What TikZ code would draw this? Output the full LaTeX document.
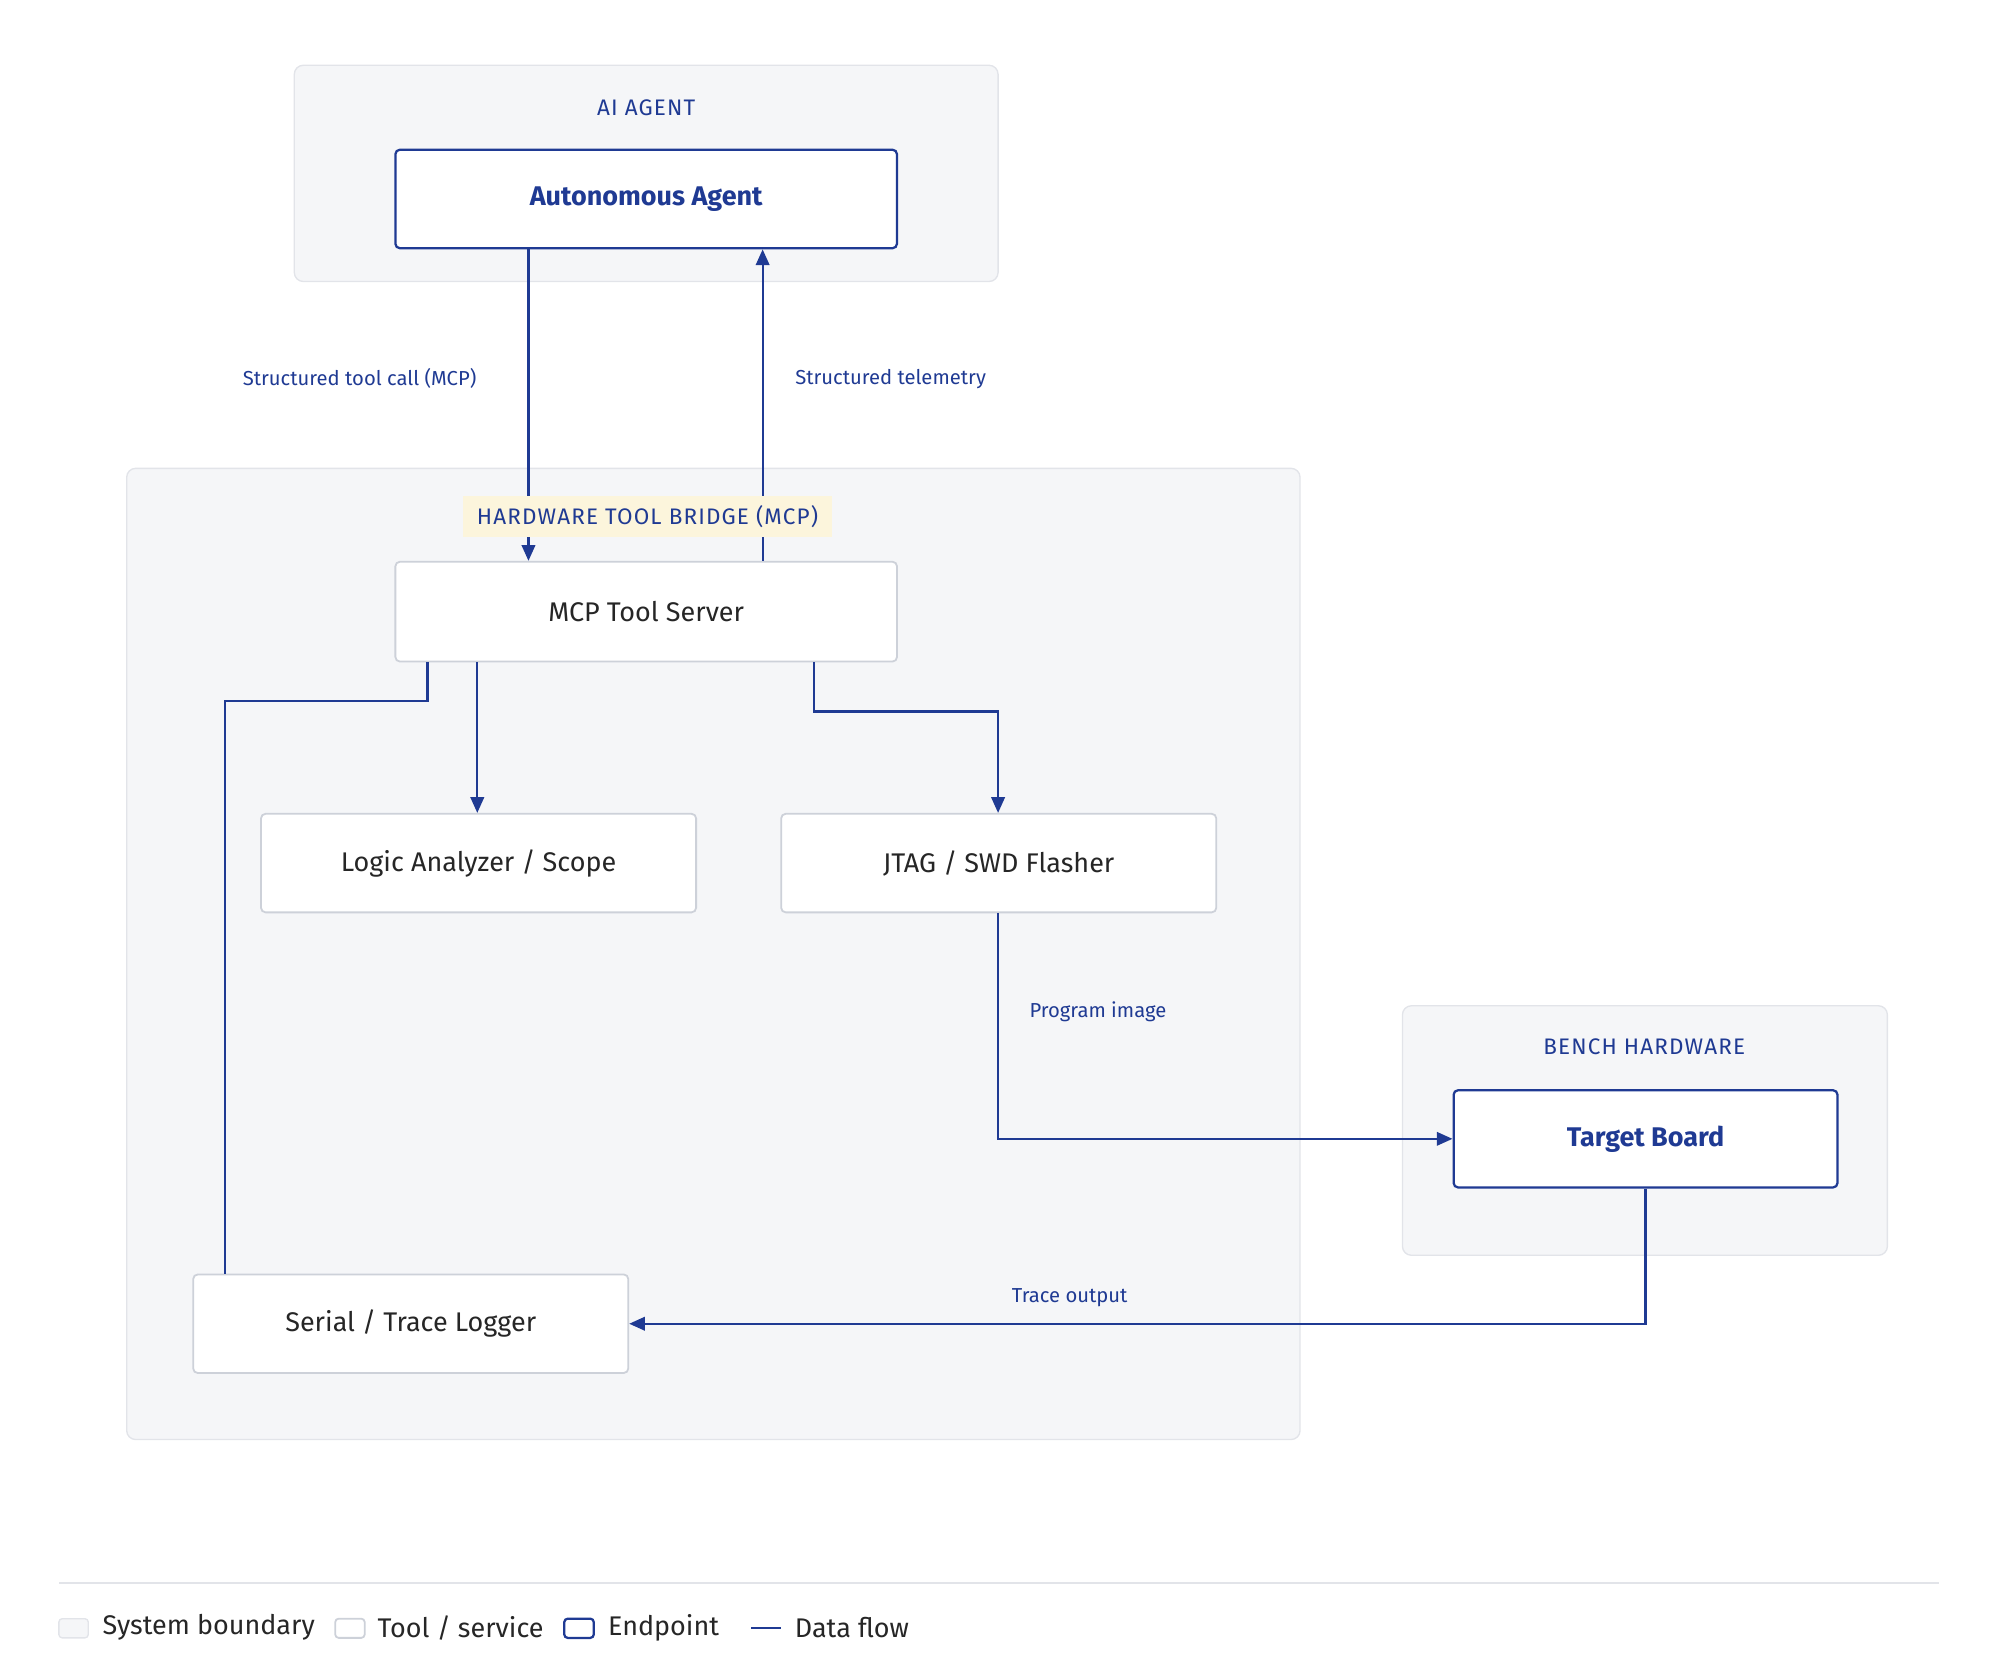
\documentclass[tikz,border=0pt]{standalone}
\usepackage{fontspec}
\setmainfont{Fira Sans}
\usetikzlibrary{arrows.meta,positioning}
\definecolor{flowblue}{HTML}{1F3A93}
\definecolor{zonefill}{HTML}{F5F6F8}
\definecolor{zoneline}{HTML}{E2E4E9}
\definecolor{toolline}{HTML}{CDD1D9}
\definecolor{tagfill}{HTML}{FCF5DC}
\tikzset{
 zone/.style={draw=zoneline,fill=zonefill,rounded corners=4pt,line width=0.6pt},
 zonetitle/.style={text=flowblue,font=\normalsize\addfontfeature{LetterSpace=5}},
 tool/.style={draw=toolline,fill=white,rounded corners=2pt,line width=0.8pt,font=\large,text=black!85},
 endpt/.style={draw=flowblue,fill=white,rounded corners=2pt,line width=1pt,font=\large\bfseries,text=flowblue},
 flow/.style={draw=flowblue,line width=1pt},
 arr/.style={flow,-{Triangle[length=7pt,width=6pt]}},
 flowlabel/.style={text=flowblue,font=\small},
 legend/.style={font=\large,anchor=west,text=black!85}
}
\begin{document}
\begin{tikzpicture}[x=0.02cm,y=-0.02cm]
 \useasboundingbox (0,0) rectangle (1563,1308);
 % boundaries
 \draw[zone] (230,51) rectangle (780,220);
 \draw[zone] (99,366) rectangle (1016,1125);
 \draw[zone] (1096,786) rectangle (1475,981);
 \node[zonetitle] (tagent) at (505,84) {AI AGENT};
 \node[zonetitle] (tbench) at (1285,818) {BENCH HARDWARE};
 % nodes
 \node[endpt,minimum width=392*0.02cm,minimum height=77*0.02cm] (agent) at (505,155.5) {Autonomous Agent};
 \node[tool,minimum width=392*0.02cm,minimum height=78*0.02cm] (server) at (505,478) {MCP Tool Server};
 \node[tool,minimum width=340*0.02cm,minimum height=77*0.02cm] (logic) at (374,674.5) {Logic Analyzer / Scope};
 \node[tool,minimum width=340*0.02cm,minimum height=77*0.02cm] (jtag) at (780.5,674.5) {JTAG / SWD Flasher};
 \node[tool,minimum width=340*0.02cm,minimum height=77*0.02cm] (serial) at (321,1034.5) {Serial / Trace Logger};
 \node[endpt,minimum width=300*0.02cm,minimum height=76*0.02cm] (board) at (1286,890) {Target Board};
 % connectors
 \draw[arr] (agent.south -| 413,0) -- (server.north -| 413,0);
 \draw[arr] (server.north -| 596,0) -- (agent.south -| 596,0);
 \draw[flow] (server.south -| 334,0) |- (176,548) -- (serial.north -| 176,0);
 \draw[arr] (server.south -| 373,0) -- (logic.north -| 373,0);
 \draw[arr] (server.south -| 636,0) |- (780,556) -- (jtag.north -| 780,0);
 \draw[arr] (jtag.south -| 780,0) |- (board.west);
 \draw[arr] (board.south) |- (serial.east);
 \node[zonetitle,fill=tagfill,inner xsep=6pt,minimum height=32*0.02cm] (tbridge) at (506,404) {HARDWARE TOOL BRIDGE (MCP)};
 % labels
 \node[flowlabel] (lcall) at (281,296) {Structured tool call (MCP)};
 \node[flowlabel] (ltele) at (696,296) {Structured telemetry};
 \node[flowlabel] (lprog) at (858,791) {Program image};
 \node[flowlabel] (ltrace) at (836,1014) {Trace output};
 % legend
 \draw[zoneline,line width=0.8pt] (46,1237) -- (1515,1237);
 \draw[zone,rounded corners=1.5pt] (46,1265) rectangle (69,1280);
 \node[legend] (lgzone) at (74,1272) {System boundary};
 \draw[tool,rounded corners=1.5pt] (262,1265) rectangle (285,1280);
 \node[legend] (lgtool) at (289,1272) {Tool / service};
 \draw[endpt,rounded corners=1.5pt] (441,1265) rectangle (464,1280);
 \node[legend] (lgend) at (469,1272) {Endpoint};
 \draw[flow] (587,1272) -- (610,1272);
 \node[legend] (lgflow) at (615,1272) {Data flow};
\end{tikzpicture}
\end{document}
